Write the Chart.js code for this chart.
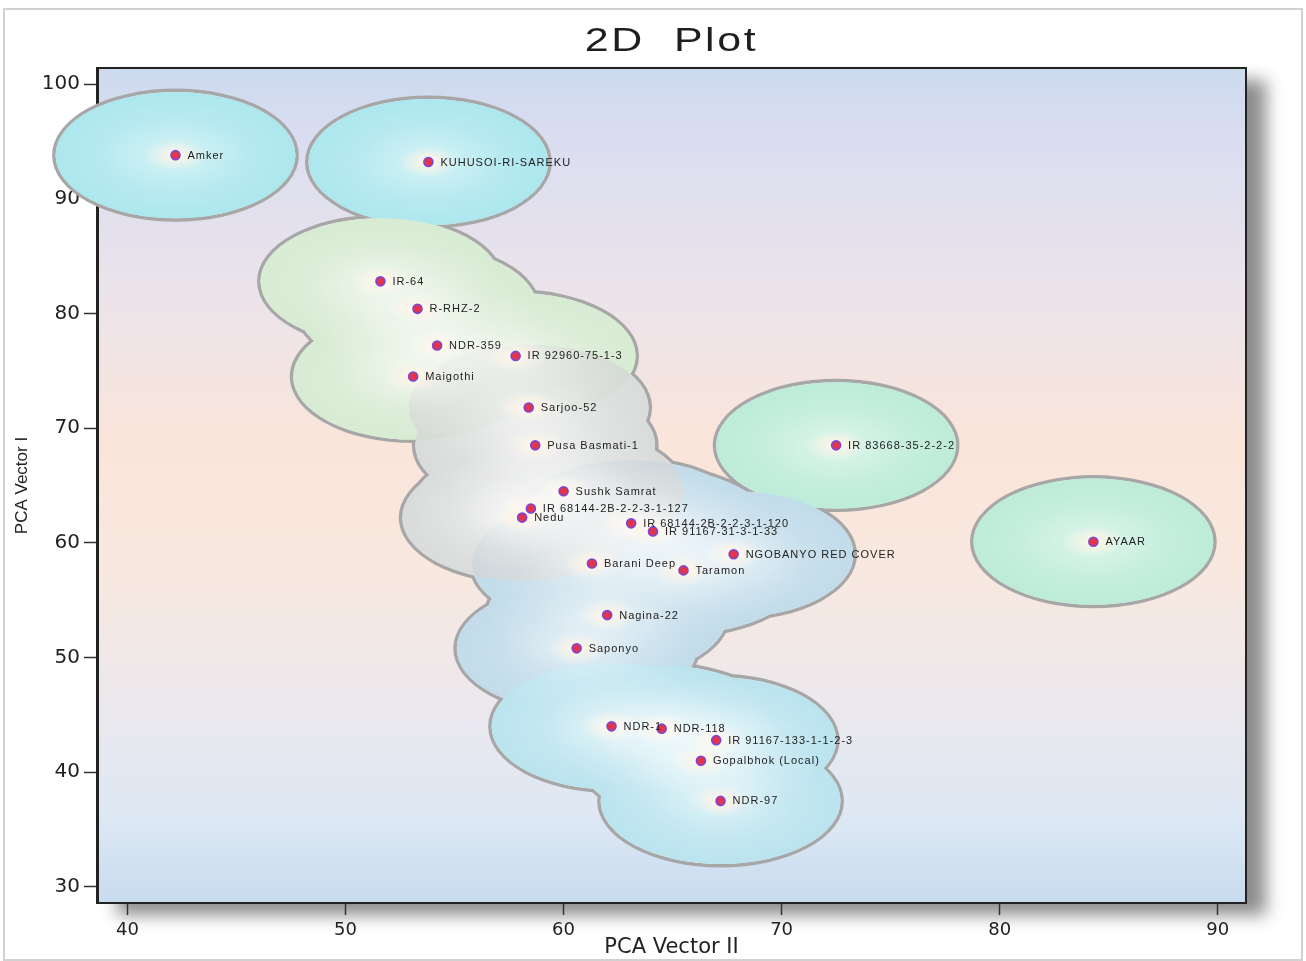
<!DOCTYPE html>
<html>
<head>
<meta charset="utf-8">
<script src="https://cdn.jsdelivr.net/npm/chart.js@4.4.1/dist/chart.umd.min.js"></script>
<style>
  html, body { margin: 0; padding: 0; background: #fff; }
</style>
</head>
<body>
<canvas id="pcaChart" width="1306" height="961"></canvas>
<script>
// variety names, PCA Vector II (x) and PCA Vector I (y), cluster id of each variety
const varieties = [
    "Amker", "KUHUSOI-RI-SAREKU", "IR-64", "R-RHZ-2", "NDR-359", "IR 92960-75-1-3",
    "Maigothi", "Sarjoo-52", "Pusa Basmati-1", "Sushk Samrat", "IR 68144-2B-2-2-3-1-127",
    "Nedu", "IR 68144-2B-2-2-3-1-120", "IR 91167-31-3-1-33", "NGOBANYO RED COVER",
    "Barani Deep", "Taramon", "Nagina-22", "Saponyo", "NDR-1", "NDR-118",
    "IR 91167-133-1-1-2-3", "Gopalbhok (Local)", "NDR-97", "IR 83668-35-2-2-2", "AYAAR"
];
const pcaVector2 = [
    42.2, 53.8, 51.6, 53.3, 54.2, 57.8,
    53.1, 58.4, 58.7, 60.0, 58.5,
    58.1, 63.1, 64.1, 67.8,
    61.3, 65.5, 62.0, 60.6, 62.2, 64.5,
    67.0, 66.3, 67.2, 72.5, 84.3
];
const pcaVector1 = [
    93.8, 93.2, 82.8, 80.4, 77.2, 76.3,
    74.5, 71.8, 68.5, 64.5, 63.0,
    62.2, 61.7, 61.0, 59.0,
    58.2, 57.6, 53.7, 50.8, 44.0, 43.8,
    42.8, 41.0, 37.5, 68.5, 60.1
];
const clusterOf = [
    0, 0, 1, 1, 1, 1,
    1, 2, 2, 2, 2,
    2, 3, 3, 3,
    3, 3, 3, 3, 4, 4,
    4, 4, 4, 5, 5
];
const xTicks = [40, 50, 60, 70, 80, 90];
const yTicks = [30, 40, 50, 60, 70, 80, 90, 100];

const HALO_RADIUS = 5.5;
const clusterColors = ['#ade7ee', '#d8ebd3', '#d2d4d3', '#c2dcea', '#bbe4ef', '#bdecd9'];
const clusterAlpha = [1, 1, 0.72, 1, 1, 1];
const drawOrder = [0, 5, 1, 3, 4, 2];

function ellipsePath(ctx, pts, rx, ry) {
    ctx.beginPath();
    pts.forEach(p => {
        ctx.moveTo(p.x + rx, p.y);
        ctx.ellipse(p.x, p.y, rx, ry, 0, 0, Math.PI * 2);
    });
}

const backgroundPlugin = {
    id: 'plotBackground',
    beforeDraw(chart) {
        const { ctx, chartArea: a } = chart;
        ctx.save();
        // light frame round the figure
        ctx.strokeStyle = '#d2d2d2';
        ctx.lineWidth = 2;
        ctx.strokeRect(4, 9, 1298, 951);
        // plot panel with shadow
        const g = ctx.createLinearGradient(0, a.top, 0, a.bottom);
        g.addColorStop(0, '#cddaee');
        g.addColorStop(0.1, '#dcdef0');
        g.addColorStop(0.28, '#ece4ea');
        g.addColorStop(0.45, '#fae5da');
        g.addColorStop(0.6, '#f8e8df');
        g.addColorStop(0.75, '#ede8ec');
        g.addColorStop(0.9, '#dde8f4');
        g.addColorStop(1, '#c8dbee');
        ctx.shadowColor = 'rgba(0,0,0,0.45)';
        ctx.shadowBlur = 16;
        ctx.shadowOffsetX = 20;
        ctx.shadowOffsetY = 12;
        ctx.fillStyle = g;
        ctx.fillRect(a.left, a.top, a.right - a.left, a.bottom - a.top);
        ctx.restore();
    },
    beforeDatasetsDraw(chart) {
        const { ctx, chartArea: a } = chart;
        ctx.save();
        ctx.strokeStyle = '#222';
        ctx.lineWidth = 2;
        ctx.strokeRect(a.left, a.top, a.right - a.left, a.bottom - a.top);
        ctx.restore();
    }
};

const haloPlugin = {
    id: 'halos',
    beforeDatasetsDraw(chart) {
        const { ctx, scales: { x, y } } = chart;
        const meta = chart.getDatasetMeta(0);
        const rx = Math.abs(x.getPixelForValue(HALO_RADIUS) - x.getPixelForValue(0));
        const ry = Math.abs(y.getPixelForValue(HALO_RADIUS) - y.getPixelForValue(0));
        const pts = meta.data.map(el => ({ x: el.x, y: el.y }));
        ctx.save();
        // grey outline of the union
        ellipsePath(ctx, pts, rx + 3.5, ry + 3.5);
        ctx.fillStyle = '#a7a7a7';
        ctx.fill();
        ellipsePath(ctx, pts, rx, ry);
        ctx.fillStyle = '#eef1f2';
        ctx.fill();
        // cluster fills
        drawOrder.forEach(c => {
            const sub = pts.filter((p, i) => clusterOf[i] === c);
            ellipsePath(ctx, sub, rx, ry);
            ctx.globalAlpha = clusterAlpha[c];
            ctx.fillStyle = clusterColors[c];
            ctx.fill();
        });
        ctx.globalAlpha = 1;
        // soft glow round each variety
        pts.forEach(p => {
            ctx.save();
            ctx.translate(p.x, p.y);
            ctx.scale(1, ry / rx);
            const g = ctx.createRadialGradient(0, 0, 0, 0, 0, rx);
            g.addColorStop(0, 'rgba(255,250,242,0.95)');
            g.addColorStop(0.12, 'rgba(255,246,234,0.75)');
            g.addColorStop(0.25, 'rgba(255,255,255,0.35)');
            g.addColorStop(0.6, 'rgba(255,255,255,0.12)');
            g.addColorStop(1, 'rgba(255,255,255,0)');
            ctx.fillStyle = g;
            ctx.beginPath();
            ctx.arc(0, 0, rx, 0, Math.PI * 2);
            ctx.fill();
            ctx.restore();
        });
        ctx.restore();
    }
};

const labelPlugin = {
    id: 'pointLabels',
    afterDatasetsDraw(chart) {
        const { ctx } = chart;
        const meta = chart.getDatasetMeta(0);
        ctx.save();
        ctx.font = '11px "Liberation Sans", Arial, sans-serif';
        ctx.letterSpacing = '1px';
        ctx.fillStyle = '#222';
        ctx.textAlign = 'left';
        ctx.textBaseline = 'middle';
        meta.data.forEach((el, i) => {
            ctx.fillText(varieties[i], el.x + 12, el.y + 0.5);
        });
        ctx.restore();
    },
    afterDraw(chart) {
        const { ctx, chartArea: a } = chart;
        ctx.save();
        ctx.font = '33px "Liberation Sans", Arial, sans-serif';
        ctx.letterSpacing = '2px';
        ctx.fillStyle = '#1e1e1e';
        ctx.textAlign = 'center';
        ctx.textBaseline = 'middle';
        ctx.translate((a.left + a.right) / 2, 42);
        ctx.scale(1.3, 1);
        ctx.fillText('2D  Plot', 0, 0);
        ctx.restore();
    }
};

const ctx = document.getElementById('pcaChart').getContext('2d');
new Chart(ctx, {
    type: 'scatter',
    data: {
        datasets: [{
            label: 'Varieties',
            data: varieties.map((n, i) => ({ x: pcaVector2[i], y: pcaVector1[i] })),
            pointRadius: 4.5,
            pointHoverRadius: 4.5,
            pointBackgroundColor: '#e2344c',
            pointBorderColor: '#7b45d8',
            pointBorderWidth: 1.6
        }]
    },
    options: {
        responsive: false,
        animation: false,
        layout: { padding: { top: 68, right: 60, bottom: 0, left: 0 } },
        plugins: {
            legend: { display: false },
            tooltip: { enabled: false },
            title: { display: false }
        },
        scales: {
            x: {
                type: 'linear',
                min: 38.6,
                max: 91.3,
                afterBuildTicks: s => { s.ticks = xTicks.map(v => ({ value: v })); },
                afterFit: s => { s.height = 58; },
                grid: { drawOnChartArea: false, tickLength: 12, tickColor: '#333', tickWidth: 1.5 },
                border: { color: '#222', width: 2 },
                ticks: {
                    color: '#222',
                    padding: 5,
                    font: { family: '"DejaVu Sans", sans-serif', size: 18 }
                },
                title: {
                    display: true,
                    text: 'PCA Vector II',
                    color: '#222',
                    padding: { top: 0, bottom: 1 },
                    font: { family: '"DejaVu Sans", sans-serif', size: 21 }
                }
            },
            y: {
                type: 'linear',
                min: 28.6,
                max: 101.4,
                afterBuildTicks: s => { s.ticks = yTicks.map(v => ({ value: v })); },
                afterFit: s => { s.width = 97; },
                grid: { drawOnChartArea: false, tickLength: 13, tickColor: '#333', tickWidth: 1.5 },
                border: { color: '#222', width: 3 },
                ticks: {
                    color: '#222',
                    padding: 4,
                    font: { family: '"DejaVu Sans", sans-serif', size: 20 }
                },
                title: {
                    display: true,
                    text: 'PCA Vector I',
                    color: '#222',
                    padding: { top: 12, bottom: 0 },
                    font: { family: '"Liberation Sans Narrow", "Liberation Sans", sans-serif', size: 17 }
                }
            }
        }
    },
    plugins: [backgroundPlugin, haloPlugin, labelPlugin]
});
</script>
</body>
</html>
